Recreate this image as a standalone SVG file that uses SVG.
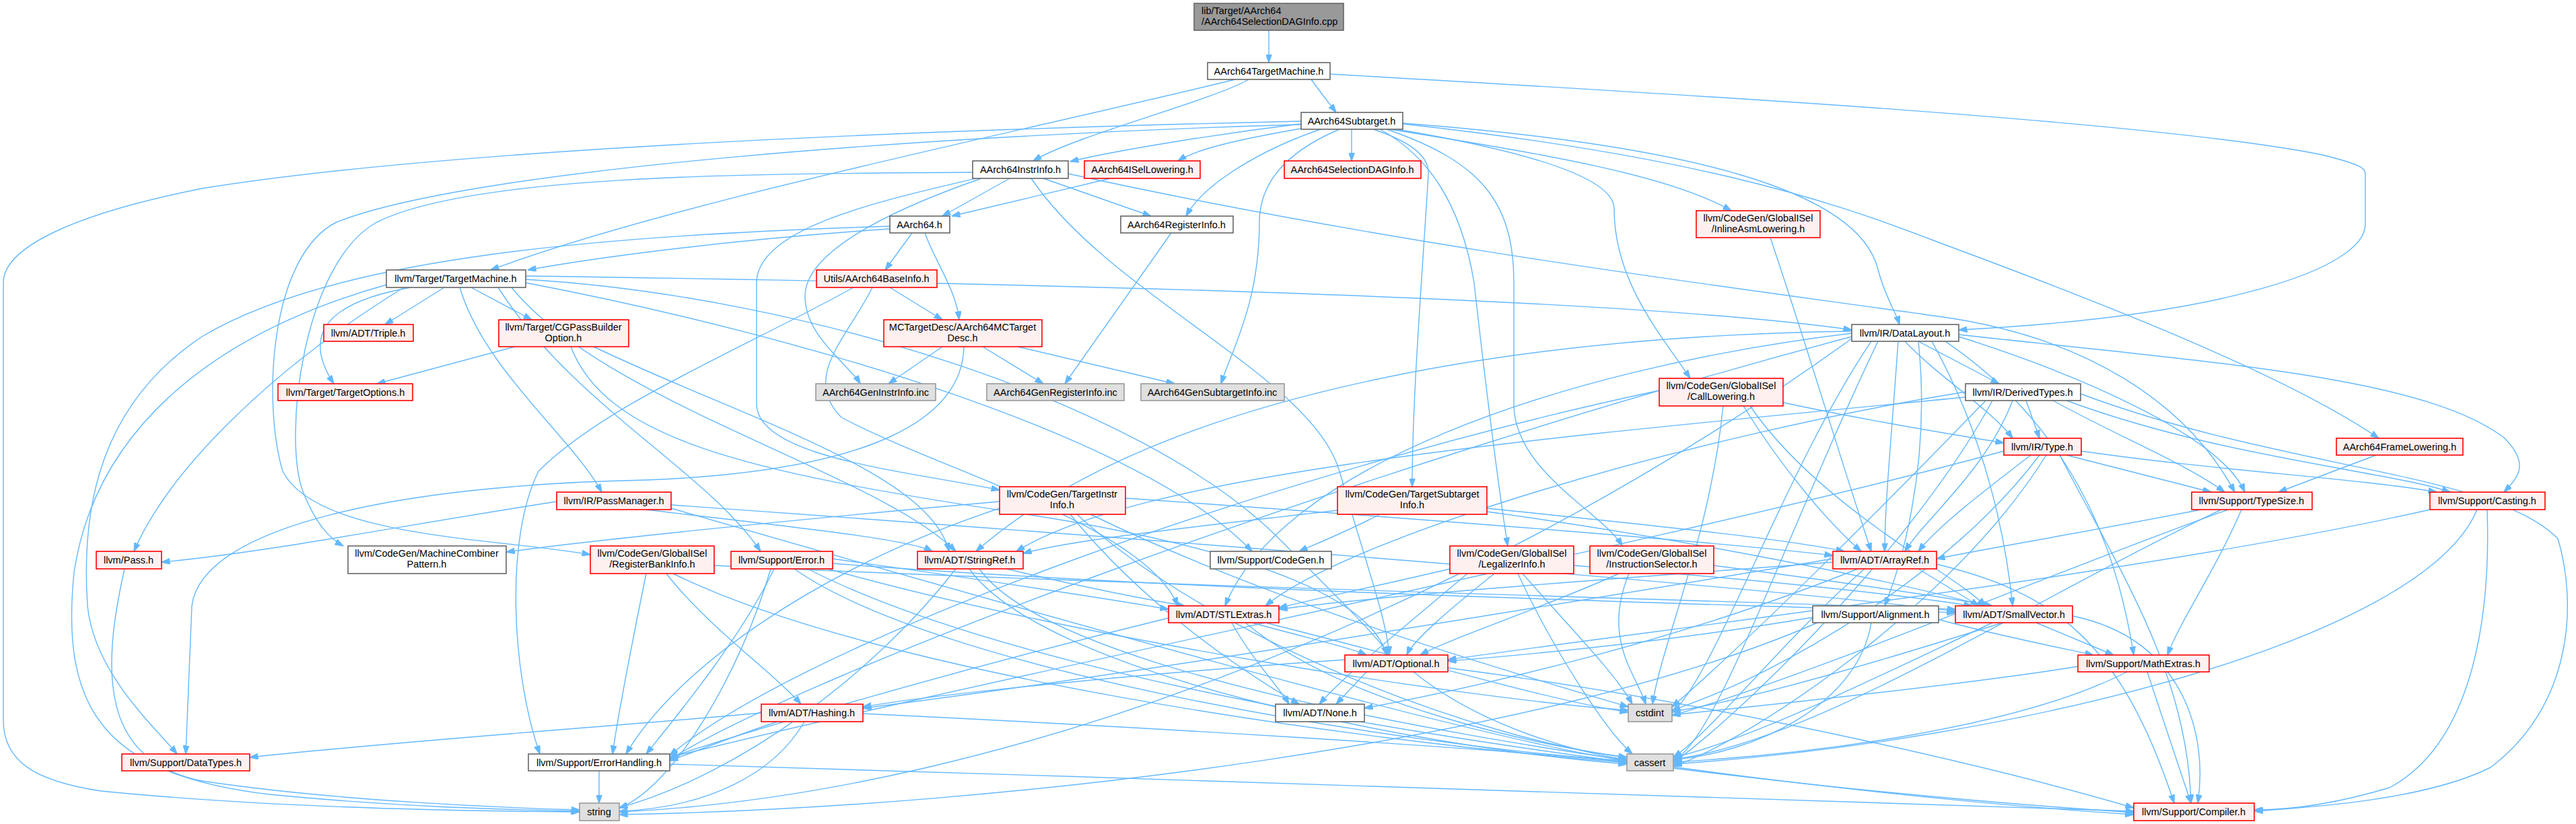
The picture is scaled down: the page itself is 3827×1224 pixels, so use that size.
<svg xmlns="http://www.w3.org/2000/svg" width="3827" height="1224" viewBox="0 0 3827 1224">
<defs>
<style>
.e path{fill:none;stroke:#63b8ff;stroke-width:1.4;marker-end:url(#a)}
.n rect{stroke-width:1.6}
.n text{font-family:"Liberation Sans",Arial,sans-serif;font-size:14.5px;fill:#000;text-anchor:middle}
.w rect{fill:#ffffff;stroke:#666666}
.r rect{fill:#fff0f0;stroke:#ff0000}
.g rect{fill:#e0e0e0;stroke:#999999}
.k rect{fill:#999999;stroke:#666666}
.k text{text-anchor:start}
</style>
<marker id="a" viewBox="0 0 13 9" refX="12.5" refY="4.5" markerWidth="13" markerHeight="9" markerUnits="userSpaceOnUse" orient="auto"><path d="M0,0L13,4.5L0,9z" fill="#63b8ff" stroke="#63b8ff"/></marker>
</defs>
<rect width="3827" height="1224" fill="#ffffff"/>
<g id="edges" class="e">
<path d="M1885,45L1885,93"/>
<path d="M1948,118C1960,135 1972,150 1985,167"/>
<path d="M1855,118C1800,150 1600,200 1535,239"/>
<path d="M1835,118C1500,200 1000,300 729,401"/>
<path d="M1976,110C2500,140 3200,180 3450,230C3510,245 3514,250 3514,260L3514,333C3514,400 3300,470 2910,490"/>
<path d="M1940,183C1800,200 1650,225 1590,240"/>
<path d="M1950,188C1850,205 1780,220 1750,239"/>
<path d="M2008,192L2008,239"/>
<path d="M1962,192C1880,220 1790,270 1762,321"/>
<path d="M2065,192C2300,230 2480,260 2572,313"/>
<path d="M2075,192C2300,230 2398,270 2398,310C2398,420 2470,500 2511,562"/>
<path d="M2050,192C2120,230 2170,300 2190,420C2210,600 2230,750 2240,811"/>
<path d="M2060,192C2200,240 2249,300 2249,420L2249,600C2249,700 2380,760 2410,811"/>
<path d="M2040,192C2110,215 2124,240 2122,260C2110,450 2098,600 2098,723"/>
<path d="M2084,183C2500,215 2760,280 2790,400C2800,440 2815,460 2822,482"/>
<path d="M2084,184C2500,230 2700,290 2880,360C3150,460 3400,560 3534,651"/>
<path d="M1990,192C1900,230 1871,280 1871,330C1871,450 1830,520 1814,570"/>
<path d="M1933,180C1500,190 700,215 300,280C100,320 5,370 5,420L5,1070C5,1130 50,1160 150,1175C400,1200 700,1205 861,1206"/>
<path d="M1933,185C1400,200 700,250 500,330C400,380 390,600 420,700C470,800 750,800 877,824"/>
<path d="M1500,265L1400,321"/>
<path d="M1550,265L1710,321"/>
<path d="M1532,265C1650,440 1950,560 1990,700C2030,840 2060,920 2064,973"/>
<path d="M1445,256C1100,258 700,260 560,330C450,390 420,650 450,730C470,780 490,800 510,811"/>
<path d="M1450,265C1300,300 1124,340 1124,420L1124,600C1124,680 1350,700 1485,728"/>
<path d="M1458,265C1300,320 1196,380 1196,440C1196,500 1260,540 1278,570"/>
<path d="M1587,258C2100,370 2600,430 2880,470C3100,500 3250,600 3320,731"/>
<path d="M1650,265L1414,321"/>
<path d="M1355,346L1315,401"/>
<path d="M1374,346C1390,390 1420,430 1425,475"/>
<path d="M1322,340C1100,355 900,380 784,401"/>
<path d="M1322,336C900,350 500,380 300,500C150,600 120,750 130,900C140,1000 230,1080 263,1120"/>
<path d="M1432,515C1430,620 1300,700 960,713C600,720 300,780 285,900L276,1120"/>
<path d="M1322,427L1400,475"/>
<path d="M1268,427C1100,520 900,600 800,700C750,800 760,1000 802,1120"/>
<path d="M1296,427C1260,500 1190,560 1250,620C1400,700 1700,780 1750,900"/>
<path d="M1400,515L1320,570"/>
<path d="M1460,515L1550,570"/>
<path d="M1512,515L1745,570"/>
<path d="M1740,346L1582,570"/>
<path d="M660,427L572,482"/>
<path d="M610,427C480,450 450,500 496,570"/>
<path d="M700,427L790,475"/>
<path d="M683,427C720,550 850,650 894,731"/>
<path d="M600,427C400,550 250,700 199,819"/>
<path d="M574,423C300,500 140,650 110,850C90,1050 150,1150 400,1180C600,1200 780,1203 861,1205"/>
<path d="M781,410C1500,420 2400,440 2751,490"/>
<path d="M781,415C1200,440 1700,600 1900,800C2000,900 2050,950 2064,973"/>
<path d="M760,427C900,600 1300,700 1420,819"/>
<path d="M781,420C1200,500 1700,650 1860,819"/>
<path d="M740,427C850,600 1050,700 1130,819"/>
<path d="M765,515L560,570"/>
<path d="M848,515C900,650 1100,700 1500,760C1900,820 2040,900 2060,973"/>
<path d="M882,515C1100,620 1380,700 1410,819"/>
<path d="M827,745C600,780 400,820 240,835"/>
<path d="M960,757C1150,780 1350,800 1385,819"/>
<path d="M997,750C1700,800 2600,870 2905,908"/>
<path d="M997,755C1500,900 2200,1100 2417,1130"/>
<path d="M2850,507L2970,570"/>
<path d="M2830,507C2880,560 2960,610 2990,651"/>
<path d="M2910,500C3100,560 3300,650 3335,731"/>
<path d="M2910,497C3300,540 3600,560 3720,650C3760,690 3740,710 3720,731"/>
<path d="M2820,507C2810,650 2800,750 2800,819"/>
<path d="M2870,507C2950,650 2980,800 2990,900"/>
<path d="M2850,507C2870,700 2820,850 2800,900"/>
<path d="M2890,507C3100,650 3150,850 3170,973"/>
<path d="M2751,495C2300,550 1900,700 1820,900"/>
<path d="M2751,492C2200,500 1700,600 1450,819"/>
<path d="M2751,500C2000,700 1200,1000 995,1128"/>
<path d="M2790,507C2650,800 2550,1100 2486,1130"/>
<path d="M2780,507C2650,700 2550,1000 2484,1059"/>
<path d="M2751,503C2200,900 1500,1180 920,1206"/>
<path d="M3010,595L3030,651"/>
<path d="M3050,595C3150,650 3250,690 3305,731"/>
<path d="M3070,595C3300,680 3550,700 3640,731"/>
<path d="M2990,595C2950,700 2860,770 2830,819"/>
<path d="M2920,582C2500,650 2000,800 1880,900"/>
<path d="M2920,590C2300,650 1700,700 1510,819"/>
<path d="M3091,585C3400,700 3700,700 3800,800C3830,900 3820,1050 3700,1140C3600,1190 3420,1200 3349,1205"/>
<path d="M2960,595C2850,800 2600,1050 2486,1133"/>
<path d="M2950,595C2800,750 2600,950 2484,1050"/>
<path d="M3070,676L3285,731"/>
<path d="M3092,670C3300,700 3500,710 3620,731"/>
<path d="M3017,676C2960,720 2880,780 2850,819"/>
<path d="M3060,676C3150,850 3250,1000 3255,1193"/>
<path d="M2977,670C2500,800 1500,1000 995,1125"/>
<path d="M3040,676C2900,900 2600,1100 2486,1138"/>
<path d="M3030,676C2900,850 2650,1000 2484,1055"/>
<path d="M3530,676L3385,731"/>
<path d="M3270,757C3100,790 2950,815 2877,830"/>
<path d="M3330,757C3290,850 3240,920 3220,973"/>
<path d="M3300,757C3000,900 2700,1100 2486,1128"/>
<path d="M3310,757C3050,850 2700,1000 2484,1063"/>
<path d="M3695,757C3700,900 3680,1100 3550,1170C3450,1200 3380,1203 3349,1203"/>
<path d="M3610,757C3200,850 2500,930 2151,980"/>
<path d="M3680,757C3600,950 3000,1100 2486,1135"/>
<path d="M2723,830C2300,900 1700,1000 1282,1052"/>
<path d="M2760,845C2500,950 2200,1020 2027,1052"/>
<path d="M2723,835C2400,860 2100,880 1900,905"/>
<path d="M2850,845L2940,900"/>
<path d="M2877,838C3050,880 3150,950 3230,1193"/>
<path d="M2770,845C2650,950 2550,1080 2486,1125"/>
<path d="M3025,925L3140,973"/>
<path d="M3079,915C3250,950 3280,1100 3265,1193"/>
<path d="M2960,925C2800,1000 2600,1100 2486,1125"/>
<path d="M2975,925C2800,980 2600,1040 2484,1057"/>
<path d="M3190,998L3255,1193"/>
<path d="M3087,990C2900,1020 2600,1050 2484,1062"/>
<path d="M3160,998C3000,1080 2700,1120 2486,1132"/>
<path d="M2693,917C2500,950 2300,970 2151,982"/>
<path d="M2880,920C2950,940 3050,960 3110,973"/>
<path d="M2780,925C2760,1050 2600,1120 2486,1128"/>
<path d="M2700,925C2300,1100 1500,1200 920,1210"/>
<path d="M1998,980C1700,1000 1400,1030 1282,1050"/>
<path d="M2030,998L1985,1046"/>
<path d="M2100,998C2200,1080 2350,1120 2417,1128"/>
<path d="M2151,992C2600,1050 3000,1150 3170,1200"/>
<path d="M1860,925C1950,950 2000,960 2030,973"/>
<path d="M1736,918C1400,1000 1100,1090 995,1125"/>
<path d="M1850,925C2000,1050 2300,1110 2417,1125"/>
<path d="M1880,925C2100,980 2300,1040 2419,1058"/>
<path d="M1830,925C1860,980 1900,1020 1915,1046"/>
<path d="M1131,1059C900,1080 600,1100 371,1125"/>
<path d="M1155,1072C1100,1090 1050,1110 995,1130"/>
<path d="M1282,1060C1700,1080 2200,1110 2417,1132"/>
<path d="M1195,1072C1150,1150 1050,1200 920,1205"/>
<path d="M890,1145L890,1193"/>
<path d="M995,1135C1800,1160 2800,1190 3170,1205"/>
<path d="M1237,830C1450,860 1650,890 1736,905"/>
<path d="M1237,837C1800,880 2500,895 2905,910"/>
<path d="M1200,845C1600,1050 2600,1170 3170,1207"/>
<path d="M1150,845C1100,950 1000,1070 960,1120"/>
<path d="M1180,845C1400,1000 2100,1110 2417,1130"/>
<path d="M1230,845C1600,950 2200,1040 2419,1055"/>
<path d="M1145,845C1100,1000 1000,1170 920,1200"/>
<path d="M1495,845C1600,870 1700,890 1760,900"/>
<path d="M1455,845C1600,1050 2700,1180 3170,1210"/>
<path d="M1440,845C1550,1000 2100,1110 2417,1135"/>
<path d="M1420,845C1300,1000 1100,1150 920,1200"/>
<path d="M990,852C1050,930 1150,1000 1190,1046"/>
<path d="M1061,840C1700,870 2500,890 2905,905"/>
<path d="M960,852C940,950 920,1050 910,1120"/>
<path d="M1000,852C1300,1000 2000,1100 2417,1133"/>
<path d="M1672,740C2100,770 2500,800 2723,825"/>
<path d="M1590,764C1700,900 1850,1000 1930,1046"/>
<path d="M1485,745C1200,770 900,800 752,820"/>
<path d="M1485,755C1200,850 1000,1000 930,1120"/>
<path d="M1600,764C1800,950 2200,1100 2417,1125"/>
<path d="M1620,764C1900,900 2250,1000 2419,1050"/>
<path d="M2209,755C2450,780 2650,800 2740,819"/>
<path d="M2209,760C2500,800 2800,860 2950,900"/>
<path d="M1987,758C1800,780 1600,800 1520,822"/>
<path d="M2050,764C2000,790 1950,810 1930,819"/>
<path d="M2590,603C2650,700 2720,780 2765,819"/>
<path d="M2649,598C2800,630 2900,645 2977,658"/>
<path d="M2600,603C2700,750 2900,850 2950,900"/>
<path d="M2465,580C1900,700 1200,950 995,1122"/>
<path d="M2560,603C2540,800 2470,950 2455,1046"/>
<path d="M2630,353C2680,500 2740,700 2780,819"/>
<path d="M2180,852C2100,920 2000,1000 1960,1046"/>
<path d="M2220,852C2160,900 2100,950 2090,973"/>
<path d="M2154,845C2050,870 1950,890 1900,903"/>
<path d="M2338,840C2600,860 2800,880 2930,900"/>
<path d="M2255,852C2300,950 2380,1080 2425,1120"/>
<path d="M2262,852C2330,930 2400,1000 2425,1046"/>
<path d="M2405,852C2300,900 2150,950 2110,973"/>
<path d="M2546,840C2700,860 2850,880 2960,900"/>
<path d="M2420,852C2380,950 2430,1000 2445,1046"/>
<path d="M185,845C150,1000 150,1130 300,1160C500,1190 750,1200 861,1203"/>
</g>
<g id="n1" class="n k"><rect x="1774" y="5" width="222" height="40"/><text x="1785" y="21">lib/Target/AArch64</text><text x="1785" y="37">/AArch64SelectionDAGInfo.cpp</text></g>
<g id="n2" class="n w"><rect x="1794" y="93" width="182" height="25"/><text x="1885" y="111">AArch64TargetMachine.h</text></g>
<g id="n3" class="n w"><rect x="1933" y="167" width="151" height="25"/><text x="2008" y="185">AArch64Subtarget.h</text></g>
<g id="n4" class="n w"><rect x="1445" y="239" width="142" height="26"/><text x="1516" y="257">AArch64InstrInfo.h</text></g>
<g id="n5" class="n r"><rect x="1611" y="239" width="172" height="26"/><text x="1697" y="257">AArch64ISelLowering.h</text></g>
<g id="n6" class="n r"><rect x="1908" y="239" width="203" height="26"/><text x="2009" y="257">AArch64SelectionDAGInfo.h</text></g>
<g id="n7" class="n w"><rect x="1322" y="321" width="89" height="25"/><text x="1366" y="339">AArch64.h</text></g>
<g id="n8" class="n w"><rect x="1665" y="321" width="167" height="25"/><text x="1748" y="339">AArch64RegisterInfo.h</text></g>
<g id="n9" class="n r"><rect x="1213" y="401" width="179" height="26"/><text x="1302" y="419">Utils/AArch64BaseInfo.h</text></g>
<g id="n10" class="n w"><rect x="574" y="401" width="207" height="26"/><text x="677" y="419">llvm/Target/TargetMachine.h</text></g>
<g id="n11" class="n r"><rect x="2520" y="313" width="184" height="40"/><text x="2612" y="329">llvm/CodeGen/GlobalISel</text><text x="2612" y="345">/InlineAsmLowering.h</text></g>
<g id="n12" class="n r"><rect x="481" y="482" width="133" height="25"/><text x="547" y="500">llvm/ADT/Triple.h</text></g>
<g id="n13" class="n r"><rect x="741" y="475" width="193" height="40"/><text x="837" y="491">llvm/Target/CGPassBuilder</text><text x="837" y="507">Option.h</text></g>
<g id="n14" class="n r"><rect x="413" y="570" width="200" height="25"/><text x="513" y="588">llvm/Target/TargetOptions.h</text></g>
<g id="n15" class="n r"><rect x="1313" y="475" width="235" height="40"/><text x="1430" y="491">MCTargetDesc/AArch64MCTarget</text><text x="1430" y="507">Desc.h</text></g>
<g id="n16" class="n g"><rect x="1212" y="570" width="178" height="25"/><text x="1301" y="588">AArch64GenInstrInfo.inc</text></g>
<g id="n17" class="n g"><rect x="1466" y="570" width="204" height="25"/><text x="1568" y="588">AArch64GenRegisterInfo.inc</text></g>
<g id="n18" class="n g"><rect x="1695" y="570" width="213" height="25"/><text x="1801" y="588">AArch64GenSubtargetInfo.inc</text></g>
<g id="n19" class="n w"><rect x="2751" y="482" width="159" height="25"/><text x="2830" y="500">llvm/IR/DataLayout.h</text></g>
<g id="n20" class="n r"><rect x="2465" y="562" width="184" height="41"/><text x="2557" y="578">llvm/CodeGen/GlobalISel</text><text x="2557" y="594">/CallLowering.h</text></g>
<g id="n21" class="n w"><rect x="2920" y="570" width="171" height="25"/><text x="3005" y="588">llvm/IR/DerivedTypes.h</text></g>
<g id="n22" class="n r"><rect x="2977" y="651" width="115" height="25"/><text x="3034" y="669">llvm/IR/Type.h</text></g>
<g id="n23" class="n r"><rect x="3471" y="651" width="188" height="25"/><text x="3565" y="669">AArch64FrameLowering.h</text></g>
<g id="n24" class="n r"><rect x="827" y="731" width="170" height="26"/><text x="912" y="749">llvm/IR/PassManager.h</text></g>
<g id="n25" class="n r"><rect x="1485" y="723" width="187" height="41"/><text x="1578" y="739">llvm/CodeGen/TargetInstr</text><text x="1578" y="755">Info.h</text></g>
<g id="n26" class="n r"><rect x="1987" y="723" width="222" height="41"/><text x="2098" y="739">llvm/CodeGen/TargetSubtarget</text><text x="2098" y="755">Info.h</text></g>
<g id="n27" class="n r"><rect x="3256" y="731" width="179" height="26"/><text x="3345" y="749">llvm/Support/TypeSize.h</text></g>
<g id="n28" class="n r"><rect x="3610" y="731" width="171" height="26"/><text x="3695" y="749">llvm/Support/Casting.h</text></g>
<g id="n29" class="n r"><rect x="143" y="819" width="97" height="26"/><text x="191" y="837">llvm/Pass.h</text></g>
<g id="n30" class="n w"><rect x="517" y="811" width="235" height="41"/><text x="634" y="827">llvm/CodeGen/MachineCombiner</text><text x="634" y="843">Pattern.h</text></g>
<g id="n31" class="n r"><rect x="877" y="811" width="184" height="41"/><text x="969" y="827">llvm/CodeGen/GlobalISel</text><text x="969" y="843">/RegisterBankInfo.h</text></g>
<g id="n32" class="n r"><rect x="1086" y="819" width="151" height="26"/><text x="1161" y="837">llvm/Support/Error.h</text></g>
<g id="n33" class="n r"><rect x="1363" y="819" width="157" height="26"/><text x="1441" y="837">llvm/ADT/StringRef.h</text></g>
<g id="n34" class="n w"><rect x="1798" y="819" width="180" height="26"/><text x="1888" y="837">llvm/Support/CodeGen.h</text></g>
<g id="n35" class="n r"><rect x="2154" y="811" width="184" height="41"/><text x="2246" y="827">llvm/CodeGen/GlobalISel</text><text x="2246" y="843">/LegalizerInfo.h</text></g>
<g id="n36" class="n r"><rect x="2362" y="811" width="184" height="41"/><text x="2454" y="827">llvm/CodeGen/GlobalISel</text><text x="2454" y="843">/InstructionSelector.h</text></g>
<g id="n37" class="n r"><rect x="2723" y="819" width="154" height="26"/><text x="2800" y="837">llvm/ADT/ArrayRef.h</text></g>
<g id="n38" class="n r"><rect x="1736" y="900" width="164" height="25"/><text x="1818" y="918">llvm/ADT/STLExtras.h</text></g>
<g id="n39" class="n w"><rect x="2693" y="900" width="187" height="25"/><text x="2786" y="918">llvm/Support/Alignment.h</text></g>
<g id="n40" class="n r"><rect x="2905" y="900" width="174" height="25"/><text x="2992" y="918">llvm/ADT/SmallVector.h</text></g>
<g id="n41" class="n r"><rect x="1998" y="973" width="153" height="25"/><text x="2074" y="991">llvm/ADT/Optional.h</text></g>
<g id="n42" class="n r"><rect x="3087" y="973" width="195" height="25"/><text x="3184" y="991">llvm/Support/MathExtras.h</text></g>
<g id="n43" class="n r"><rect x="1131" y="1046" width="151" height="26"/><text x="1206" y="1064">llvm/ADT/Hashing.h</text></g>
<g id="n44" class="n w"><rect x="1895" y="1046" width="132" height="26"/><text x="1961" y="1064">llvm/ADT/None.h</text></g>
<g id="n45" class="n g"><rect x="2419" y="1046" width="65" height="26"/><text x="2451" y="1064">cstdint</text></g>
<g id="n46" class="n r"><rect x="181" y="1120" width="190" height="25"/><text x="276" y="1138">llvm/Support/DataTypes.h</text></g>
<g id="n47" class="n w"><rect x="785" y="1120" width="210" height="25"/><text x="890" y="1138">llvm/Support/ErrorHandling.h</text></g>
<g id="n48" class="n g"><rect x="2417" y="1120" width="69" height="25"/><text x="2451" y="1138">cassert</text></g>
<g id="n49" class="n g"><rect x="861" y="1193" width="59" height="26"/><text x="890" y="1211">string</text></g>
<g id="n50" class="n r"><rect x="3170" y="1193" width="179" height="26"/><text x="3259" y="1211">llvm/Support/Compiler.h</text></g>
</svg>
